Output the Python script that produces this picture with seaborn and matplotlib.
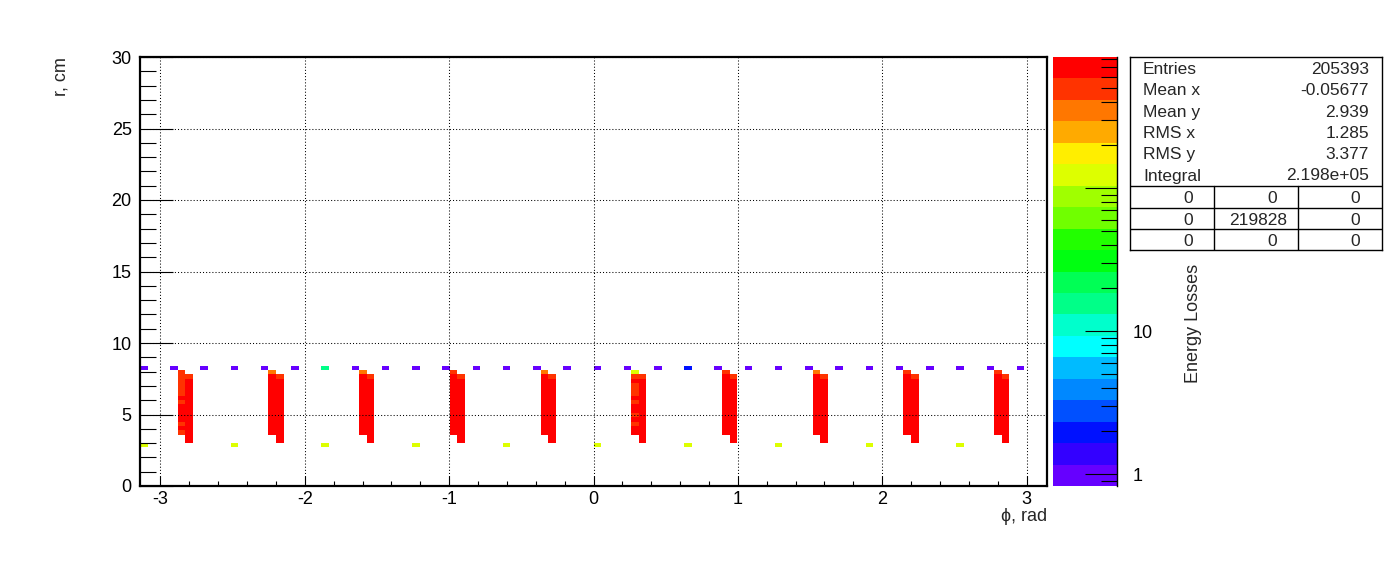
import numpy as np
import pandas as pd
import matplotlib
matplotlib.use("Agg")
import matplotlib.pyplot as plt
import seaborn as sns
from matplotlib.colors import ListedColormap, LogNorm
from matplotlib.ticker import MultipleLocator, FixedLocator, LogLocator, NullFormatter

sns.set_theme(style="white")
plt.rcParams['font.family'] = ['Liberation Sans', 'DejaVu Sans']
plt.rcParams['axes.unicode_minus'] = False

# histogram binning
PHI_BINS = 120
R_BINS = 100
PHI_RANGE = (-np.pi, np.pi)
R_RANGE = (0, 30)

# z range of the (log) colour axis
ZMIN = 10 ** -0.082
ZMAX = 10 ** 2.918

# 20 contour colours, low -> high
palette = ["#6600ff", "#3300ff", "#0011ff", "#0050ff", "#0088ff",
           "#00bbff", "#00ffff", "#00ffcc", "#00ff88", "#00ff55",
           "#00ff11", "#22ff00", "#70ff00", "#a0ff00", "#ddff00",
           "#ffee00", "#ffaa00", "#ff7700", "#ff3300", "#ff0000"]

# outer ring of small deposits (r = 8.25 cm)
ring_r = 8.25
ring_phi = [-3.115, -2.906, -2.697, -2.487, -2.278, -2.068, -1.859, -1.649,
            -1.440, -1.230, -1.021, -0.812, -0.602, -0.393, -0.183, 0.026,
            0.236, 0.445, 0.655, 0.864, 1.073, 1.283, 1.492, 1.702,
            1.911, 2.121, 2.330, 2.539, 2.749, 2.958]
ring_edep = [1, 1, 1, 1, 1, 1, 15, 1, 1, 1, 1, 1, 1, 1, 1,
             1, 1, 1, 2, 1, 1, 1, 1, 1, 1, 1, 1, 1, 1, 1]

# inner ring (r = 2.85 cm)
inner_r = 2.85
inner_phi = [-3.115, -2.487, -1.859, -1.230, -0.602, 0.026, 0.655, 1.283, 1.911, 2.539]
inner_edep = [120, 120, 120, 120, 120, 120, 120, 120, 120, 120]

# sensor columns: two neighbouring phi bins per sector
colA_phi = [-2.854, -2.225, -1.597, -0.969, -0.340, 0.288, 0.916, 1.545, 2.173, 2.801]
colB_phi = [-2.801, -2.173, -1.545, -0.916, -0.288, 0.340, 0.969, 1.597, 2.225, 2.854]
colA_r = [3.75, 4.05, 4.35, 4.65, 4.95, 5.25, 5.55, 5.85,
          6.15, 6.45, 6.75, 7.05, 7.35, 7.65, 7.95]
colB_r = [3.15, 3.45, 3.75, 4.05, 4.35, 4.65, 4.95, 5.25,
          5.55, 5.85, 6.15, 6.45, 6.75, 7.05, 7.35, 7.65]

# energy per cell, bottom -> top
colA_edep = [
    [500, 700, 500, 700, 700, 700, 700, 500, 700, 500, 500, 500, 500, 500, 500],
    [700, 700, 700, 700, 700, 700, 700, 700, 700, 700, 700, 700, 700, 700, 350],
    [700, 700, 700, 700, 700, 700, 700, 700, 700, 700, 700, 700, 700, 700, 350],
    [700, 700, 700, 700, 700, 700, 700, 700, 700, 700, 700, 700, 700, 700, 500],
    [700, 700, 700, 700, 700, 700, 700, 700, 700, 700, 700, 700, 700, 700, 350],
    [700, 700, 500, 700, 500, 700, 700, 500, 700, 500, 500, 500, 700, 500, 120],
    [700, 700, 700, 700, 700, 700, 700, 700, 700, 700, 700, 700, 700, 700, 500],
    [700, 700, 700, 700, 700, 700, 700, 700, 700, 700, 700, 700, 700, 700, 350],
    [700, 700, 700, 700, 700, 700, 700, 700, 700, 700, 700, 700, 700, 700, 500],
    [700, 700, 700, 700, 700, 700, 700, 700, 700, 700, 700, 700, 700, 700, 500],
]
colB_edep = [
    [700, 700, 700, 700, 700, 700, 700, 700, 700, 700, 700, 700, 700, 700, 700, 500],
    [700, 700, 700, 700, 700, 700, 700, 700, 700, 700, 700, 700, 700, 700, 700, 500],
    [700, 700, 700, 700, 700, 700, 700, 700, 700, 700, 700, 700, 700, 700, 700, 500],
    [700, 700, 700, 700, 700, 700, 700, 700, 700, 700, 700, 700, 700, 700, 700, 500],
    [700, 700, 700, 700, 700, 700, 700, 700, 700, 700, 700, 700, 700, 700, 700, 500],
    [700, 700, 700, 700, 700, 700, 700, 700, 700, 700, 700, 700, 700, 700, 700, 500],
    [700, 700, 700, 700, 700, 700, 700, 700, 700, 700, 700, 700, 700, 700, 700, 500],
    [700, 700, 700, 700, 700, 700, 700, 700, 700, 700, 700, 700, 700, 700, 700, 500],
    [700, 700, 700, 700, 700, 700, 700, 700, 700, 700, 700, 700, 700, 700, 700, 500],
    [700, 700, 700, 700, 700, 700, 700, 700, 700, 700, 700, 700, 700, 700, 700, 500],
]

# stats box
stat_names = ["Entries", "Mean x", "Mean y", "RMS x", "RMS y", "Integral"]
stat_values = ["205393", "-0.05677", "2.939", "1.285", "3.377", "2.198e+05"]
table_cells = [["0", "0", "0"], ["0", "219828", "0"], ["0", "0", "0"]]

# build the weighted point table
rows = []
for p, e in zip(ring_phi, ring_edep):
    rows.append((p, ring_r, e))
for p, e in zip(inner_phi, inner_edep):
    rows.append((p, inner_r, e))
for i in range(len(colA_phi)):
    for r, e in zip(colA_r, colA_edep[i]):
        rows.append((colA_phi[i], r, e))
    for r, e in zip(colB_r, colB_edep[i]):
        rows.append((colB_phi[i], r, e))
df = pd.DataFrame(rows, columns=["phi", "r", "edep"])

W, H = 1396, 572
fig = plt.figure(figsize=(W / 100, H / 100), dpi=100)
fig.patch.set_facecolor("white")

ax = fig.add_axes([140 / W, 86 / H, 907 / W, 429 / H])
cax = fig.add_axes([1052.5 / W, 86 / H, 64.5 / W, 429 / H])

cmap = ListedColormap(palette)
sns.histplot(data=df, x="phi", y="r", weights="edep",
             bins=(PHI_BINS, R_BINS), binrange=(PHI_RANGE, R_RANGE),
             cmap=cmap, ax=ax)
mesh = ax.collections[0]
mesh.norm = LogNorm(vmin=ZMIN, vmax=ZMAX)

ax.set_facecolor("white")
ax.set_xlim(*PHI_RANGE)
ax.set_ylim(*R_RANGE)
ax.set_xlabel("")
ax.set_ylabel("")
for sp in ax.spines.values():
    sp.set_visible(True)
    sp.set_color("black")
    sp.set_linewidth(1.6)

ax.xaxis.set_major_locator(MultipleLocator(1))
ax.xaxis.set_minor_locator(MultipleLocator(0.2))
ax.yaxis.set_major_locator(MultipleLocator(5))
ax.yaxis.set_minor_locator(MultipleLocator(1))
ax.tick_params(axis="both", which="both", direction="in", top=False, right=False,
               bottom=True, left=True, color="black", width=0.8, labelsize=13,
               labelcolor="black")
ax.tick_params(axis="x", which="major", length=7.5, pad=3.5)
ax.tick_params(axis="x", which="minor", length=3.8)
ax.tick_params(axis="y", which="major", length=23.5, pad=6)
ax.tick_params(axis="y", which="minor", length=11.5)

ax.set_axisbelow(False)
ax.grid(True, which="major", color="black", linewidth=0.75, linestyle=(0, (1, 2)))

# colour bar
cbar = fig.colorbar(mesh, cax=cax)
cbar.outline.set_visible(False)
cax.set_axisbelow(False)
cax.spines["right"].set_visible(True)
cax.spines["right"].set_color("black")
cax.spines["right"].set_linewidth(1.0)
cax.yaxis.set_ticks_position("right")
cax.yaxis.set_major_locator(FixedLocator([1, 10, 100]))
cax.yaxis.set_minor_locator(LogLocator(base=10, subs=[2, 3, 4, 5, 6, 7, 8, 9]))
cax.yaxis.set_minor_formatter(NullFormatter())
cax.set_yticklabels(["1", "10", "100"])
cax.tick_params(axis="y", which="both", direction="in", color="black", width=0.8,
                labelsize=13, labelcolor="black", pad=11)
cax.tick_params(axis="y", which="major", length=23)
cax.tick_params(axis="y", which="minor", length=11.5)

# axis titles
fig.text(61 / W, 1 - 57 / H, "r, cm", rotation=90, ha="center", va="top", fontsize=13)
fig.text(1047 / W, 1 - 521 / H, "ϕ, rad", ha="right", va="baseline", fontsize=13)
fig.text(1193 / W, 1 - 383 / H, "Energy Losses", rotation=90, ha="center", va="bottom",
         fontsize=13)

# stats box drawn on top
sax = fig.add_axes([1130 / W, (H - 250) / H, 252 / W, 193 / H])
sax.set_zorder(10)
sax.set_facecolor("white")
sax.set_xlim(1130, 1382)
sax.set_ylim(250, 57)
sax.set_xticks([])
sax.set_yticks([])
for sp in sax.spines.values():
    sp.set_visible(True)
    sp.set_color("black")
    sp.set_linewidth(1.0)

row_base = [74, 95.3, 116.6, 137.9, 159.2, 180.5]
for name, val, yb in zip(stat_names, stat_values, row_base):
    sax.text(1143, yb, name, ha="left", va="baseline", fontsize=12.5)
    sax.text(1369, yb, val, ha="right", va="baseline", fontsize=12.5)

for yl in [186, 207.5, 228.5]:
    sax.plot([1130, 1382], [yl, yl], color="black", linewidth=1.0)
sax.plot([1214, 1214], [186, 250], color="black", linewidth=1.0)
sax.plot([1298, 1298], [186, 250], color="black", linewidth=1.0)

table_base = [203.3, 224.8, 246.3]
for cells, yb in zip(table_cells, table_base):
    for j, txt in enumerate(cells):
        if len(txt) > 1:
            xc = 1258
        else:
            xc = [1188, 1272, 1355][j]
        sax.text(xc, yb, txt, ha="center", va="baseline", fontsize=12.5)

fig.savefig("out.png", dpi=100, facecolor="white")
